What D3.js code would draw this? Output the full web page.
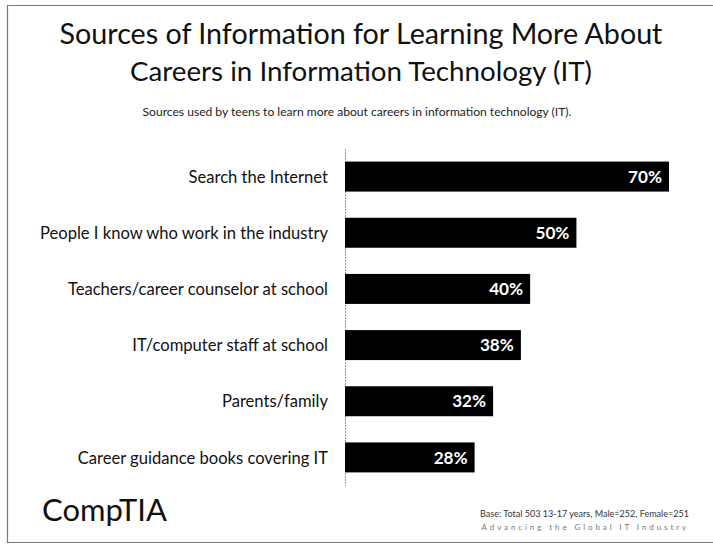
<!DOCTYPE html>
<html>
<head>
<meta charset="utf-8">
<script src="https://cdn.jsdelivr.net/npm/d3@7"></script>
<style>
  html, body { margin: 0; padding: 0; background: #fff; }
  svg { display: block; }
  text { font-family: Lato, "Open Sans", sans-serif; }
</style>
</head>
<body>
<svg id="chart" width="713" height="548"></svg>
<script>
// Survey results: share of teens using each source
const categories = [
  "Search the Internet",
  "People I know who work in the industry",
  "Teachers/career counselor at school",
  "IT/computer staff at school",
  "Parents/family",
  "Career guidance books covering IT"
];
const values = [70, 50, 40, 38, 32, 28];
const valueLabels = ["70%", "50%", "40%", "38%", "32%", "28%"];

const titleLines = [
  "Sources of Information for Learning More About",
  "Careers in Information Technology (IT)"
];
const subtitle = "Sources used by teens to learn more about careers in information technology (IT).";
const baseNote = "Base: Total 503 13-17 years, Male=252, Female=251";
const tagline = "Advancing the Global IT Industry";
const brand = "CompTIA";

const svg = d3.select("#chart");

// scale a text element's font size so it spans the given width
function fitWidth(sel, target) {
  const node = sel.node();
  const fs = parseFloat(sel.attr("font-size"));
  const w = node.getComputedTextLength();
  sel.attr("font-size", (fs * target / w).toFixed(2));
}

// slide frame
svg.append("path")
  .attr("d", "M713,5.5 H7.5 V542.5 H713")
  .attr("fill", "none")
  .attr("stroke", "#777")
  .attr("stroke-width", 1.2);

// titles
const titleWidths = [603, 462];
const titleY = [44, 81];
titleLines.forEach((t, i) => {
  const el = svg.append("text")
    .attr("x", 361).attr("y", titleY[i])
    .attr("text-anchor", "middle")
    .attr("font-size", 28)
    .attr("fill", "#111")
    .text(t);
  fitWidth(el, titleWidths[i]);
});

const sub = svg.append("text")
  .attr("x", 357).attr("y", 116)
  .attr("text-anchor", "middle")
  .attr("font-size", 11)
  .attr("fill", "#222")
  .text(subtitle);
fitWidth(sub, 429);

// scales
const x = d3.scaleLinear().domain([0, 70]).range([345, 669]);
const y = d3.scaleBand().domain(categories).range([148.5, 485.5]).paddingInner(0.466).paddingOuter(0.233);

// vertical axis
const axis = svg.append("g")
  .attr("transform", `translate(${x(0)},0)`)
  .call(d3.axisLeft(y).tickSize(0).tickFormat(""));
axis.select(".domain")
  .attr("stroke", "#999")
  .attr("stroke-width", 1)
  .attr("stroke-dasharray", "2,1");

// category labels
const labels = svg.append("g").selectAll("text")
  .data(categories)
  .join("text")
  .attr("x", 328)
  .attr("y", d => y(d) + y.bandwidth() / 2)
  .attr("dy", "0.37em")
  .attr("text-anchor", "end")
  .attr("font-size", 15)
  .attr("fill", "#111")
  .text(d => d);
// size all labels together so the longest one spans its measured width
{
  const longest = labels.filter((d, i) => i === 1);
  const w = longest.node().getComputedTextLength();
  labels.attr("font-size", (15 * 288 / w).toFixed(2));
}

// bars
svg.append("g").selectAll("rect")
  .data(values)
  .join("rect")
  .attr("x", x(0))
  .attr("y", (d, i) => y(categories[i]))
  .attr("width", d => x(d) - x(0))
  .attr("height", y.bandwidth())
  .attr("fill", "#000");

// value labels inside bar ends
const valText = svg.append("g").selectAll("text")
  .data(values)
  .join("text")
  .attr("x", d => x(d) - 7)
  .attr("y", (d, i) => y(categories[i]) + y.bandwidth() / 2)
  .attr("dy", "0.36em")
  .attr("text-anchor", "end")
  .attr("font-size", 17)
  .attr("font-weight", "bold")
  .attr("fill", "#fff")
  .text((d, i) => valueLabels[i]);
{
  const w = valText.node().getComputedTextLength();
  valText.attr("font-size", (17 * 34 / w).toFixed(2));
}

// footer
const logo = svg.append("text")
  .attr("x", 42).attr("y", 521)
  .attr("font-size", 24)
  .attr("font-family", "'DejaVu Sans', sans-serif")
  .attr("fill", "#111")
  .text(brand);
fitWidth(logo, 125);

const base = svg.append("text")
  .attr("x", 689).attr("y", 517)
  .attr("text-anchor", "end")
  .attr("font-size", 9.5)
  .attr("fill", "#333")
  .text(baseNote);
fitWidth(base, 209);

const tag = svg.append("text")
  .attr("x", 689).attr("y", 530)
  .attr("text-anchor", "end")
  .attr("font-size", 8)
  .attr("letter-spacing", "2.9px")
  .attr("fill", "#777")
  .text(tagline);
</script>
</body>
</html>
